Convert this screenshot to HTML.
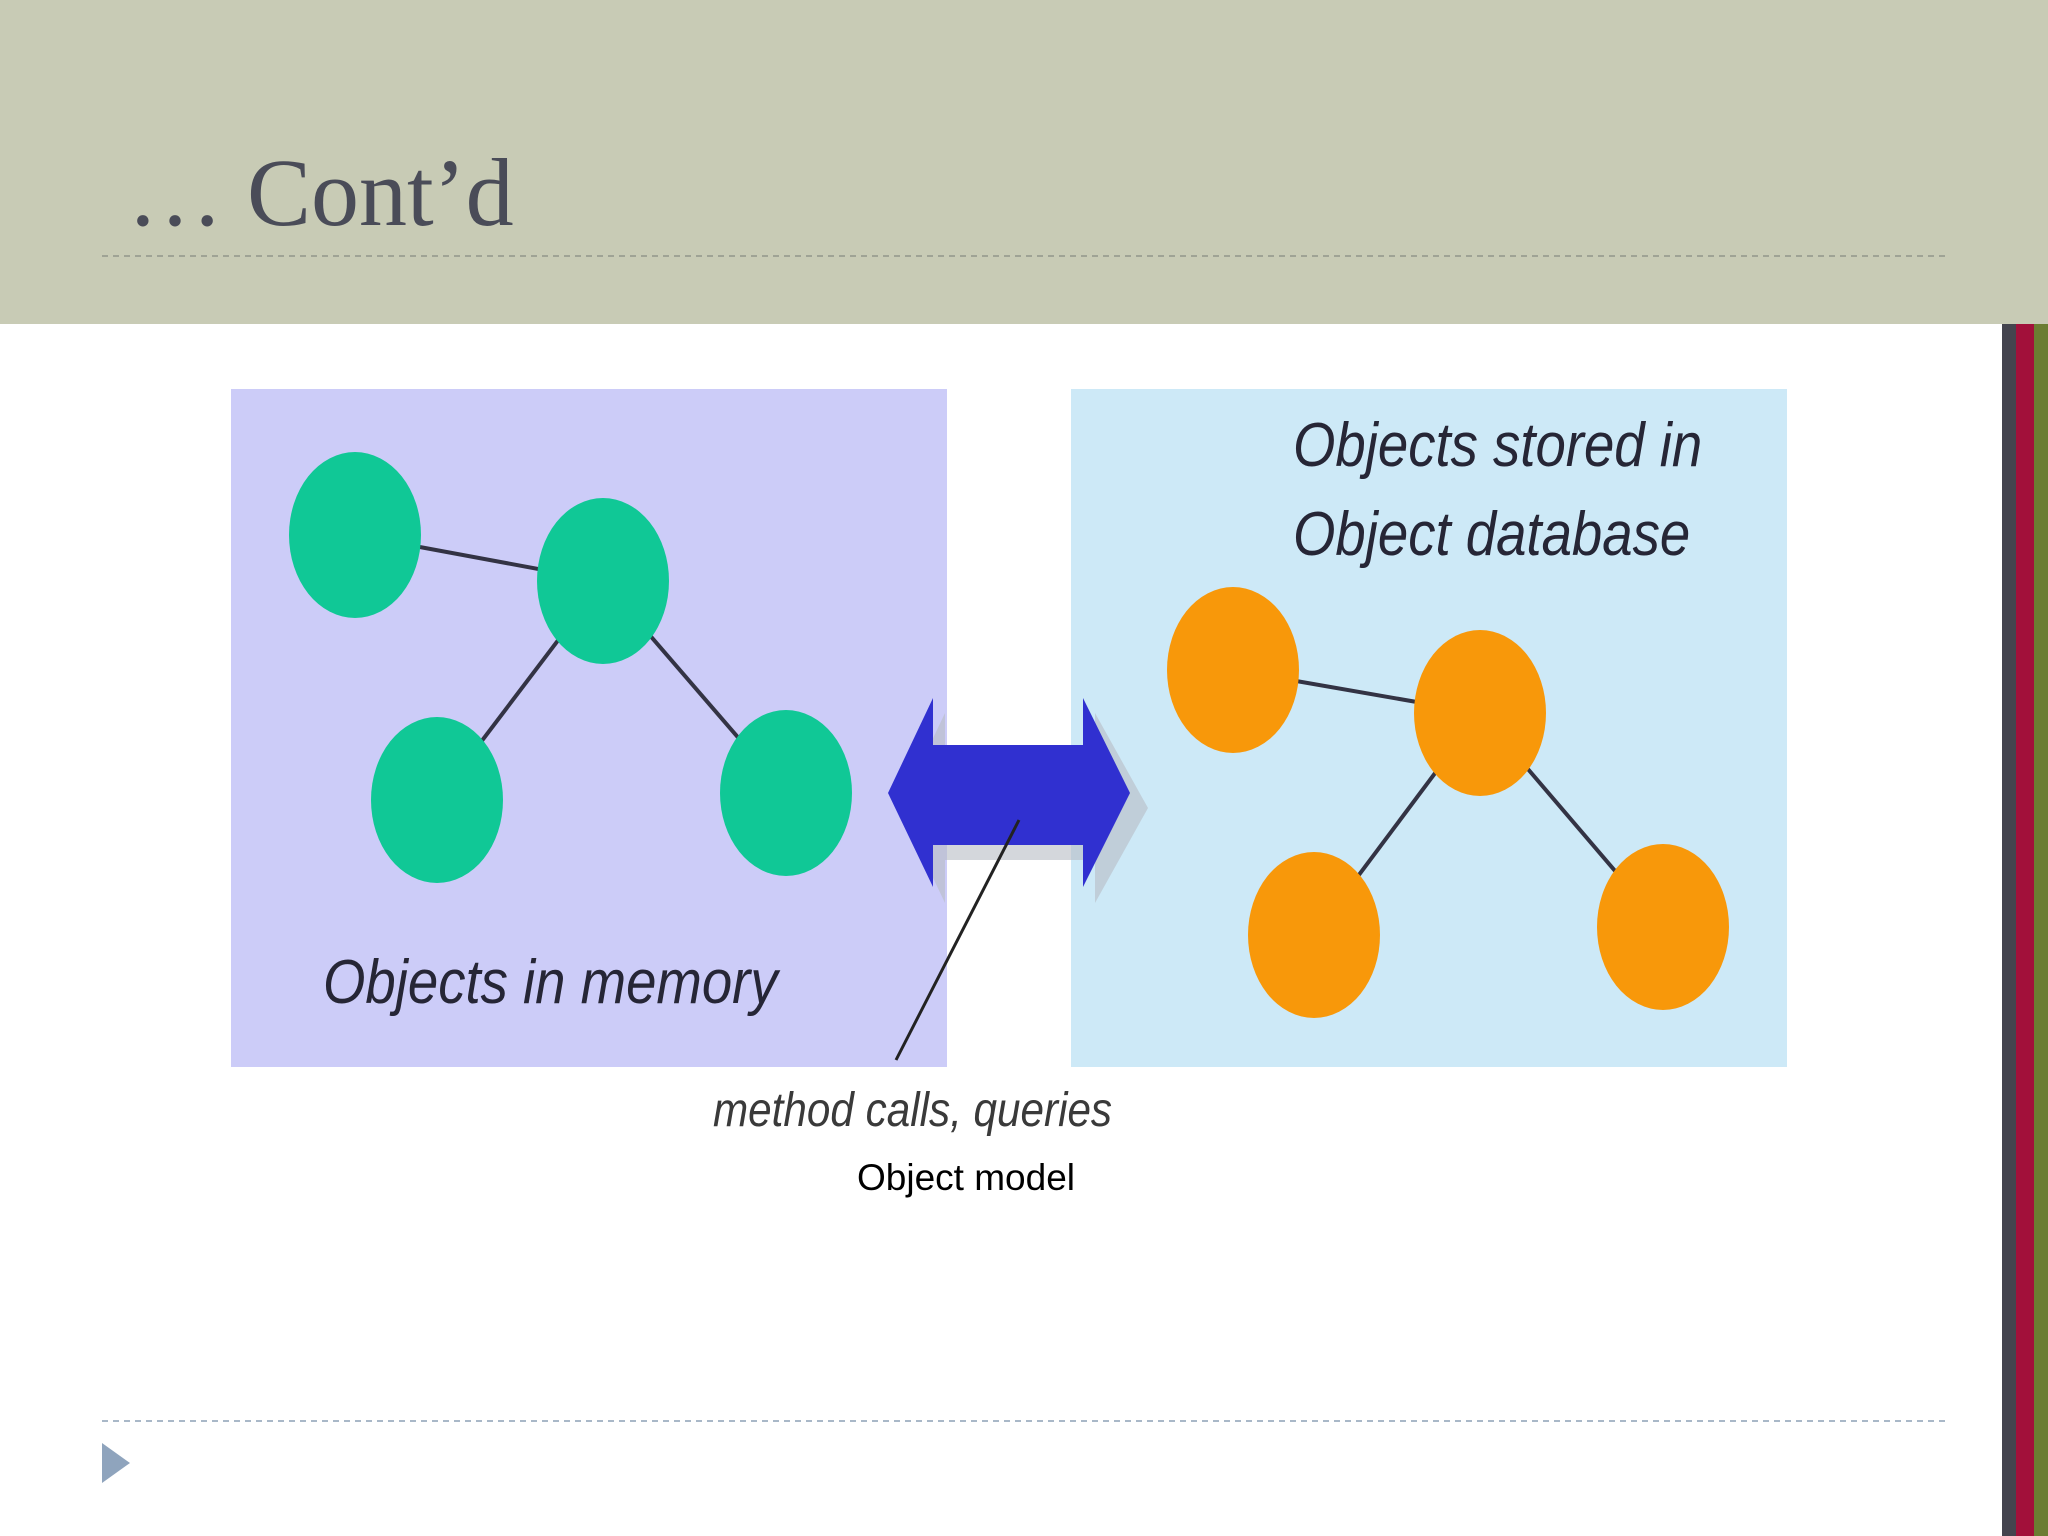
<!DOCTYPE html>
<html><head><style>
html,body{margin:0;padding:0;background:#fff;}
svg{display:block;}
</style></head><body>
<svg width="2048" height="1536" viewBox="0 0 2048 1536" xmlns="http://www.w3.org/2000/svg">
<rect x="0" y="0" width="2048" height="1536" fill="#ffffff"/>
<rect x="0" y="0" width="2048" height="324" fill="#c8cbb5"/>
<text x="127" y="225" font-family="Liberation Serif, serif" font-size="96" fill="#4a4c58">… Cont’d</text>
<line x1="102" y1="256" x2="1946" y2="256" stroke="#9fa395" stroke-width="2" stroke-dasharray="6,5"/>
<rect x="2002" y="324" width="14" height="1212" fill="#44444e"/>
<rect x="2016" y="324" width="18" height="1212" fill="#a2103a"/>
<rect x="2034" y="324" width="14" height="1212" fill="#6b7d32"/>
<!-- boxes -->
<rect x="231" y="389" width="716" height="678" fill="#ccccf8"/>
<rect x="1071" y="389" width="716" height="678" fill="#cde9f7"/>
<!-- green tree -->
<g stroke="#333344" stroke-width="4">
<line x1="355" y1="535" x2="603" y2="581"/>
<line x1="603" y1="581" x2="437" y2="800"/>
<line x1="603" y1="581" x2="786" y2="793"/>
<line x1="1233" y1="670" x2="1480" y2="713"/>
<line x1="1480" y1="713" x2="1314" y2="935"/>
<line x1="1480" y1="713" x2="1663" y2="927"/>
</g>
<g fill="#10c896">
<ellipse cx="355" cy="535" rx="66" ry="83"/>
<ellipse cx="603" cy="581" rx="66" ry="83"/>
<ellipse cx="437" cy="800" rx="66" ry="83"/>
<ellipse cx="786" cy="793" rx="66" ry="83"/>
</g>
<g fill="#f8980a">
<ellipse cx="1233" cy="670" rx="66" ry="83"/>
<ellipse cx="1480" cy="713" rx="66" ry="83"/>
<ellipse cx="1314" cy="935" rx="66" ry="83"/>
<ellipse cx="1663" cy="927" rx="66" ry="83"/>
</g>
<!-- arrow shadow -->
<polygon points="900,808 945,713 945,760 1095,760 1095,713 1148,808 1095,903 1095,860 945,860 945,903" fill="#b8bcc4" opacity="0.6"/>
<polygon points="888,793 933,698 933,745 1083,745 1083,698 1130,793 1083,887 1083,845 933,845 933,887" fill="#3030d0"/>
<line x1="1019" y1="820" x2="896" y2="1060" stroke="#222" stroke-width="3"/>
<text x="323" y="1003" font-family="Liberation Sans Narrow, Liberation Sans, sans-serif" font-style="italic" font-size="62" fill="#262636" transform="translate(323 1003) scale(0.88 1) translate(-323 -1003)">Objects in memory</text>
<text x="1293" y="466" font-family="Liberation Sans Narrow, Liberation Sans, sans-serif" font-style="italic" font-size="62" fill="#262636" transform="translate(1293 466) scale(0.88 1) translate(-1293 -466)">Objects stored in</text>
<text x="1293" y="555" font-family="Liberation Sans Narrow, Liberation Sans, sans-serif" font-style="italic" font-size="62" fill="#262636" transform="translate(1293 555) scale(0.88 1) translate(-1293 -555)">Object database</text>
<text x="713" y="1126" font-family="Liberation Sans Narrow, Liberation Sans, sans-serif" font-style="italic" font-size="48" fill="#3a3a3a" transform="translate(713 1126) scale(0.88 1) translate(-713 -1126)">method calls, queries</text>
<text x="857" y="1190" font-family="Liberation Sans, sans-serif" font-size="37" fill="#000">Object model</text>
<line x1="102" y1="1421" x2="1946" y2="1421" stroke="#a9b8c8" stroke-width="2" stroke-dasharray="6,5"/>
<polygon points="102,1443 130,1463 102,1483" fill="#8fa4bd"/>
</svg>
</body></html>
